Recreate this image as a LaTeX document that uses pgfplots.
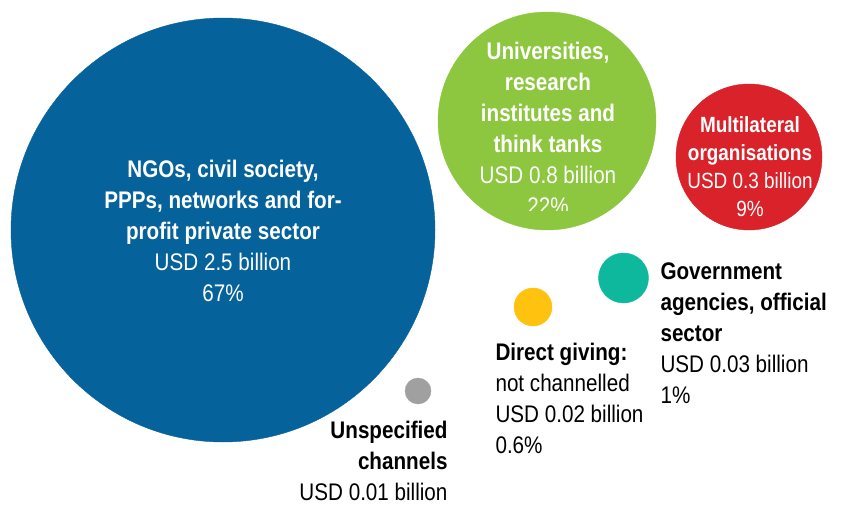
\documentclass[border=0pt]{standalone}
\usepackage{pgfplots}
\pgfplotsset{compat=1.18}
\usepackage{fontspec}
\setmainfont{Liberation Sans}[FakeStretch=0.86]
\definecolor{ngoblue}{HTML}{05629A}
\definecolor{unigreen}{HTML}{8DC63F}
\definecolor{multired}{HTML}{D9222A}
\definecolor{govteal}{HTML}{0DB89C}
\definecolor{directyellow}{HTML}{FFC20E}
\definecolor{unspgray}{HTML}{A0A0A0}
\newcommand{\lblbig}{\fontsize{24bp}{31bp}\selectfont}
\newcommand{\lblmid}{\fontsize{22bp}{28bp}\selectfont}
\begin{document}
\begin{tikzpicture}
\begin{axis}[
  width=858bp, height=497bp, scale only axis,
  xmin=0, xmax=858, ymin=0, ymax=497,
  hide axis, clip=false, set layers,
  every node/.style={inner sep=0pt},
]
% keep the whole canvas in the bounding box
\path (rel axis cs:0,0) rectangle (rel axis cs:1,1);
% bubbles: centre (px, flipped) and radius in bp
\addplot[only marks, mark=*, color=ngoblue, mark size=212bp] coordinates {(223,267)};
\addplot[only marks, mark=*, color=unigreen, mark size=109bp] coordinates {(547,376)};
\addplot[only marks, mark=*, color=multired, mark size=73bp] coordinates {(749,340)};
\addplot[only marks, mark=*, color=govteal, mark size=25bp] coordinates {(623.5,219)};
\addplot[only marks, mark=*, color=directyellow, mark size=19bp] coordinates {(533,190)};
\addplot[only marks, mark=*, color=unspgray, mark size=13bp] coordinates {(418,106)};

\begin{pgfonlayer}{axis foreground}
\node[white, align=center, font=\lblbig] at (axis cs:223,266)
  {\textbf{NGOs, civil society,}\\\textbf{PPPs, networks and for-}\\\textbf{profit private sector}\\USD 2.5 billion\\67\%};
\begin{scope}
\clip (axis cs:380,287) rectangle (axis cs:720,497);
\node[white, align=center, font=\lblbig] at (axis cs:548,369)
  {\textbf{Universities,}\\\textbf{research}\\\textbf{institutes and}\\\textbf{think tanks}\\USD 0.8 billion\\22\%};
\end{scope}
\node[white, align=center, font=\lblmid] at (axis cs:750,330)
  {\textbf{Multilateral}\\\textbf{organisations}\\USD 0.3 billion\\9\%};
\end{pgfonlayer}
\node[black, align=left, anchor=north west, font=\lblbig] at (axis cs:657,238)
  {\textbf{Government}\\\textbf{agencies, official}\\\textbf{sector}\\USD 0.03 billion\\1\%};
\node[black, align=left, anchor=north west, font=\lblbig] at (axis cs:492,157)
  {\textbf{Direct giving:}\\not channelled\\USD 0.02 billion\\0.6\%};
\node[black, align=right, anchor=north east, font=\lblbig] at (axis cs:451,79)
  {\textbf{Unspecified}\\\textbf{channels}\\USD 0.01 billion};
\end{axis}
\end{tikzpicture}
\end{document}
